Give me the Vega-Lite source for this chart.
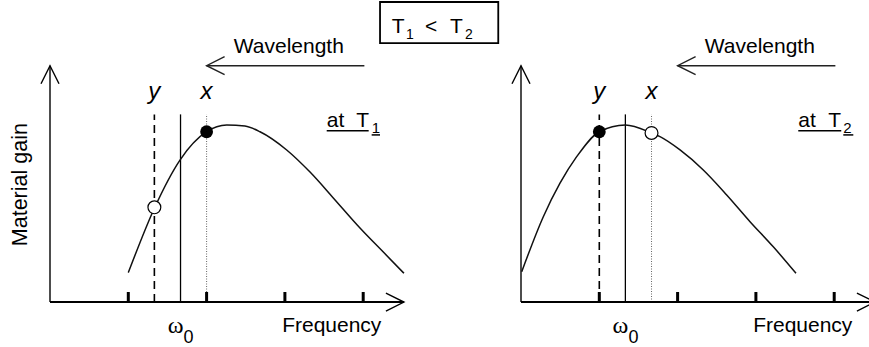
{
  "$schema": "https://vega.github.io/schema/vega-lite/v6.json",
  "background": "white",
  "padding": 0,
  "spacing": 0,
  "bounds": "flush",
  "config": {
    "view": {"stroke": null},
    "font": "Liberation Sans"
  },
  "hconcat": [
    {
      "width": 440,
      "height": 347,
      "encoding": {
        "x": {"field": "f", "type": "quantitative", "scale": {"domain": [-0.6386, 4.9809], "nice": false, "zero": false}, "axis": null},
        "y": {"field": "g", "type": "quantitative", "scale": {"domain": [-0.2542, 1.7062], "nice": false, "zero": false}, "axis": null}
      },
      "layer": [
        {
          "data": {"values": [{"f": 4.215, "g": 1.695, "f2": 5.725, "g2": 1.462}]},
          "mark": {"type": "rect", "fill": "white", "stroke": "#000", "strokeWidth": 1.8},
          "encoding": {"x2": {"field": "f2"}, "y2": {"field": "g2"}}
        },
        {
          "data": {"values": [{"f": 4.364, "g": 1.518, "label": "T"}, {"f": 4.789, "g": 1.518, "label": "<"}, {"f": 5.109, "g": 1.518, "label": "T"}]},
          "mark": {"type": "text", "fontSize": 21, "align": "left", "baseline": "alphabetic", "color": "#000"},
          "encoding": {"text": {"field": "label"}}
        },
        {
          "data": {"values": [{"f": 4.547, "g": 1.484, "label": "1"}, {"f": 5.3, "g": 1.484, "label": "2"}]},
          "mark": {"type": "text", "fontSize": 14, "align": "left", "baseline": "alphabetic", "color": "#000"},
          "encoding": {"text": {"field": "label"}}
        },
        {
          "data": {"values": [{"f": 1.333, "g": 0, "g2": 1.06}]},
          "mark": {"type": "rule", "color": "#000", "strokeWidth": 1.6, "strokeDash": [8, 5]},
          "encoding": {"y2": {"field": "g2"}}
        },
        {
          "data": {"values": [{"f": 1.667, "g": 0, "g2": 1.06}]},
          "mark": {"type": "rule", "color": "#000", "strokeWidth": 1.3},
          "encoding": {"y2": {"field": "g2"}}
        },
        {
          "data": {"values": [{"f": 2.0, "g": 0, "g2": 1.06}]},
          "mark": {"type": "rule", "color": "#666", "strokeWidth": 1, "strokeDash": [1, 1.5]},
          "encoding": {"y2": {"field": "g2"}}
        },
        {
          "data": {"values": [{"f": 0, "g": 0, "f2": 4.52}]},
          "mark": {"type": "rule", "color": "#000", "strokeWidth": 2},
          "encoding": {"x2": {"field": "f2"}}
        },
        {
          "data": {"values": [{"f": 0, "g": 0, "g2": 1.335}]},
          "mark": {"type": "rule", "color": "#000", "strokeWidth": 1.4},
          "encoding": {"y2": {"field": "g2"}}
        },
        {
          "data": {"values": [{"f": 1, "g": 0}, {"f": 2, "g": 0}, {"f": 3, "g": 0}, {"f": 4, "g": 0}]},
          "mark": {"type": "tick", "orient": "vertical", "size": 10, "thickness": 3, "yOffset": -5, "color": "#000", "opacity": 1}
        },
        {
          "data": {"values": [
            {"f": 1.0, "g": 0.166}, {"f": 1.333, "g": 0.53}, {"f": 1.66, "g": 0.802}, {"f": 2.0, "g": 0.962},
            {"f": 2.257, "g": 1.0}, {"f": 2.49, "g": 0.994}, {"f": 2.682, "g": 0.962}, {"f": 3.023, "g": 0.859},
            {"f": 3.321, "g": 0.734}, {"f": 3.618, "g": 0.588}, {"f": 3.959, "g": 0.418}, {"f": 4.257, "g": 0.282},
            {"f": 4.521, "g": 0.162}
          ]},
          "mark": {"type": "line", "interpolate": "monotone", "color": "#111", "strokeWidth": 1.5}
        },
        {
          "data": {"values": [{"f": 2.0, "g": 0.962}]},
          "mark": {"type": "point", "filled": true, "size": 165, "color": "#000", "opacity": 1}
        },
        {
          "data": {"values": [{"f": 1.333, "g": 0.535}]},
          "mark": {"type": "point", "filled": true, "fill": "white", "stroke": "#000", "strokeWidth": 1.2, "size": 165, "opacity": 1}
        },
        {
          "data": {"values": [{"f": 4.52, "g": 0}]},
          "mark": {"type": "point", "shape": "M-2,-1L0,0L-2,1", "size": 324, "filled": false, "stroke": "#000", "strokeWidth": 1.4, "angle": 0, "opacity": 1}
        },
        {
          "data": {"values": [{"f": 0, "g": 1.335}]},
          "mark": {"type": "point", "shape": "M-2,-1L0,0L-2,1", "size": 324, "filled": false, "stroke": "#000", "strokeWidth": 1.4, "angle": 270, "opacity": 1}
        },
        {
          "data": {"values": [{"f": 2.0, "g": 1.335, "f2": 4.015}]},
          "mark": {"type": "rule", "color": "#222", "strokeWidth": 1.4},
          "encoding": {"x2": {"field": "f2"}}
        },
        {
          "data": {"values": [{"f": 2.0, "g": 1.335}]},
          "mark": {"type": "point", "shape": "M-2,-1L0,0L-2,1", "size": 324, "filled": false, "stroke": "#222", "strokeWidth": 1.4, "angle": 180, "opacity": 1}
        },
        {
          "data": {"values": [{"f": 3.05, "g": 1.407, "label": "Wavelength"}]},
          "mark": {"type": "text", "fontSize": 21, "align": "center", "baseline": "alphabetic", "color": "#000"},
          "encoding": {"text": {"field": "label"}}
        },
        {
          "data": {"values": [{"f": 4.232, "g": -0.168, "label": "Frequency"}]},
          "mark": {"type": "text", "fontSize": 21, "align": "right", "baseline": "alphabetic", "color": "#000"},
          "encoding": {"text": {"field": "label"}}
        },
        {
          "data": {"values": [{"f": -0.298, "g": 0.663, "label": "Material gain"}]},
          "mark": {"type": "text", "fontSize": 21.5, "angle": 270, "align": "center", "baseline": "alphabetic", "color": "#000"},
          "encoding": {"text": {"field": "label"}}
        },
        {
          "data": {"values": [{"f": 1.333, "g": 1.147, "label": "y"}, {"f": 2.0, "g": 1.147, "label": "x"}]},
          "mark": {"type": "text", "fontSize": 24, "fontStyle": "italic", "align": "center", "baseline": "alphabetic", "color": "#000"},
          "encoding": {"text": {"field": "label"}}
        },
        {
          "data": {"values": [{"f": 3.534, "g": 0.987, "label": "at"}, {"f": 3.912, "g": 0.987, "label": "T"}]},
          "mark": {"type": "text", "fontSize": 21, "align": "left", "baseline": "alphabetic", "color": "#000"},
          "encoding": {"text": {"field": "label"}}
        },
        {
          "data": {"values": [{"f": 4.108, "g": 0.953, "label": "1"}]},
          "mark": {"type": "text", "fontSize": 15, "align": "left", "baseline": "alphabetic", "color": "#000"},
          "encoding": {"text": {"field": "label"}}
        },
        {
          "data": {"values": [{"f": 3.534, "g": 0.968, "f2": 4.07}, {"f": 4.108, "g": 0.944, "f2": 4.215}]},
          "mark": {"type": "rule", "color": "#000", "strokeWidth": 1.5},
          "encoding": {"x2": {"field": "f2"}}
        },
        {
          "data": {"values": [{"f": 1.667, "g": -0.177, "label": "ω"}]},
          "mark": {"type": "text", "font": "Liberation Serif", "fontSize": 24, "align": "right", "dx": 3, "baseline": "alphabetic", "color": "#000"},
          "encoding": {"text": {"field": "label"}}
        },
        {
          "data": {"values": [{"f": 1.667, "g": -0.23, "label": "0"}]},
          "mark": {"type": "text", "fontSize": 18, "align": "left", "dx": 3, "baseline": "alphabetic", "color": "#000"},
          "encoding": {"text": {"field": "label"}}
        }
      ]
    },
    {
      "width": 429,
      "height": 347,
      "encoding": {
        "x": {"field": "f", "type": "quantitative", "scale": {"domain": [-1.0345, 4.4444], "nice": false, "zero": false}, "axis": null},
        "y": {"field": "g", "type": "quantitative", "scale": {"domain": [-0.2542, 1.7062], "nice": false, "zero": false}, "axis": null}
      },
      "layer": [
        {
          "data": {"values": [{"f": 1.0, "g": 0, "g2": 1.06}]},
          "mark": {"type": "rule", "color": "#000", "strokeWidth": 1.6, "strokeDash": [8, 5]},
          "encoding": {"y2": {"field": "g2"}}
        },
        {
          "data": {"values": [{"f": 1.333, "g": 0, "g2": 1.06}]},
          "mark": {"type": "rule", "color": "#000", "strokeWidth": 1.3},
          "encoding": {"y2": {"field": "g2"}}
        },
        {
          "data": {"values": [{"f": 1.667, "g": 0, "g2": 1.06}]},
          "mark": {"type": "rule", "color": "#666", "strokeWidth": 1, "strokeDash": [1, 1.5]},
          "encoding": {"y2": {"field": "g2"}}
        },
        {
          "data": {"values": [{"f": 0, "g": 0, "f2": 4.52}]},
          "mark": {"type": "rule", "color": "#000", "strokeWidth": 2},
          "encoding": {"x2": {"field": "f2"}}
        },
        {
          "data": {"values": [{"f": 0, "g": 0, "g2": 1.335}]},
          "mark": {"type": "rule", "color": "#000", "strokeWidth": 1.4},
          "encoding": {"y2": {"field": "g2"}}
        },
        {
          "data": {"values": [{"f": 1, "g": 0}, {"f": 2, "g": 0}, {"f": 3, "g": 0}, {"f": 4, "g": 0}]},
          "mark": {"type": "tick", "orient": "vertical", "size": 10, "thickness": 3, "yOffset": -5, "color": "#000", "opacity": 1}
        },
        {
          "data": {"values": [
            {"f": 0.009, "g": 0.171}, {"f": 0.285, "g": 0.482}, {"f": 0.498, "g": 0.671}, {"f": 0.711, "g": 0.821},
            {"f": 1.0, "g": 0.962}, {"f": 1.333, "g": 1.0}, {"f": 1.667, "g": 0.955}, {"f": 1.775, "g": 0.934},
            {"f": 2.031, "g": 0.859}, {"f": 2.328, "g": 0.746}, {"f": 2.627, "g": 0.605}, {"f": 2.925, "g": 0.454},
            {"f": 3.222, "g": 0.312}, {"f": 3.512, "g": 0.162}
          ]},
          "mark": {"type": "line", "interpolate": "monotone", "color": "#111", "strokeWidth": 1.5}
        },
        {
          "data": {"values": [{"f": 1.0, "g": 0.962}]},
          "mark": {"type": "point", "filled": true, "size": 165, "color": "#000", "opacity": 1}
        },
        {
          "data": {"values": [{"f": 1.667, "g": 0.955}]},
          "mark": {"type": "point", "filled": true, "fill": "white", "stroke": "#000", "strokeWidth": 1.2, "size": 165, "opacity": 1}
        },
        {
          "data": {"values": [{"f": 4.52, "g": 0}]},
          "mark": {"type": "point", "shape": "M-2,-1L0,0L-2,1", "size": 324, "filled": false, "stroke": "#000", "strokeWidth": 1.4, "angle": 0, "opacity": 1}
        },
        {
          "data": {"values": [{"f": 0, "g": 1.335}]},
          "mark": {"type": "point", "shape": "M-2,-1L0,0L-2,1", "size": 324, "filled": false, "stroke": "#000", "strokeWidth": 1.4, "angle": 270, "opacity": 1}
        },
        {
          "data": {"values": [{"f": 2.0, "g": 1.335, "f2": 4.015}]},
          "mark": {"type": "rule", "color": "#222", "strokeWidth": 1.4},
          "encoding": {"x2": {"field": "f2"}}
        },
        {
          "data": {"values": [{"f": 2.0, "g": 1.335}]},
          "mark": {"type": "point", "shape": "M-2,-1L0,0L-2,1", "size": 324, "filled": false, "stroke": "#222", "strokeWidth": 1.4, "angle": 180, "opacity": 1}
        },
        {
          "data": {"values": [{"f": 3.05, "g": 1.407, "label": "Wavelength"}]},
          "mark": {"type": "text", "fontSize": 21, "align": "center", "baseline": "alphabetic", "color": "#000"},
          "encoding": {"text": {"field": "label"}}
        },
        {
          "data": {"values": [{"f": 4.232, "g": -0.168, "label": "Frequency"}]},
          "mark": {"type": "text", "fontSize": 21, "align": "right", "baseline": "alphabetic", "color": "#000"},
          "encoding": {"text": {"field": "label"}}
        },
        {
          "data": {"values": [{"f": 1.0, "g": 1.147, "label": "y"}, {"f": 1.667, "g": 1.147, "label": "x"}]},
          "mark": {"type": "text", "fontSize": 24, "fontStyle": "italic", "align": "center", "baseline": "alphabetic", "color": "#000"},
          "encoding": {"text": {"field": "label"}}
        },
        {
          "data": {"values": [{"f": 3.541, "g": 0.987, "label": "at"}, {"f": 3.925, "g": 0.987, "label": "T"}]},
          "mark": {"type": "text", "fontSize": 21, "align": "left", "baseline": "alphabetic", "color": "#000"},
          "encoding": {"text": {"field": "label"}}
        },
        {
          "data": {"values": [{"f": 4.116, "g": 0.953, "label": "2"}]},
          "mark": {"type": "text", "fontSize": 15, "align": "left", "baseline": "alphabetic", "color": "#000"},
          "encoding": {"text": {"field": "label"}}
        },
        {
          "data": {"values": [{"f": 3.541, "g": 0.968, "f2": 4.09}, {"f": 4.116, "g": 0.944, "f2": 4.244}]},
          "mark": {"type": "rule", "color": "#000", "strokeWidth": 1.5},
          "encoding": {"x2": {"field": "f2"}}
        },
        {
          "data": {"values": [{"f": 1.333, "g": -0.177, "label": "ω"}]},
          "mark": {"type": "text", "font": "Liberation Serif", "fontSize": 24, "align": "right", "dx": 3, "baseline": "alphabetic", "color": "#000"},
          "encoding": {"text": {"field": "label"}}
        },
        {
          "data": {"values": [{"f": 1.333, "g": -0.23, "label": "0"}]},
          "mark": {"type": "text", "fontSize": 18, "align": "left", "dx": 3, "baseline": "alphabetic", "color": "#000"},
          "encoding": {"text": {"field": "label"}}
        }
      ]
    }
  ]
}
